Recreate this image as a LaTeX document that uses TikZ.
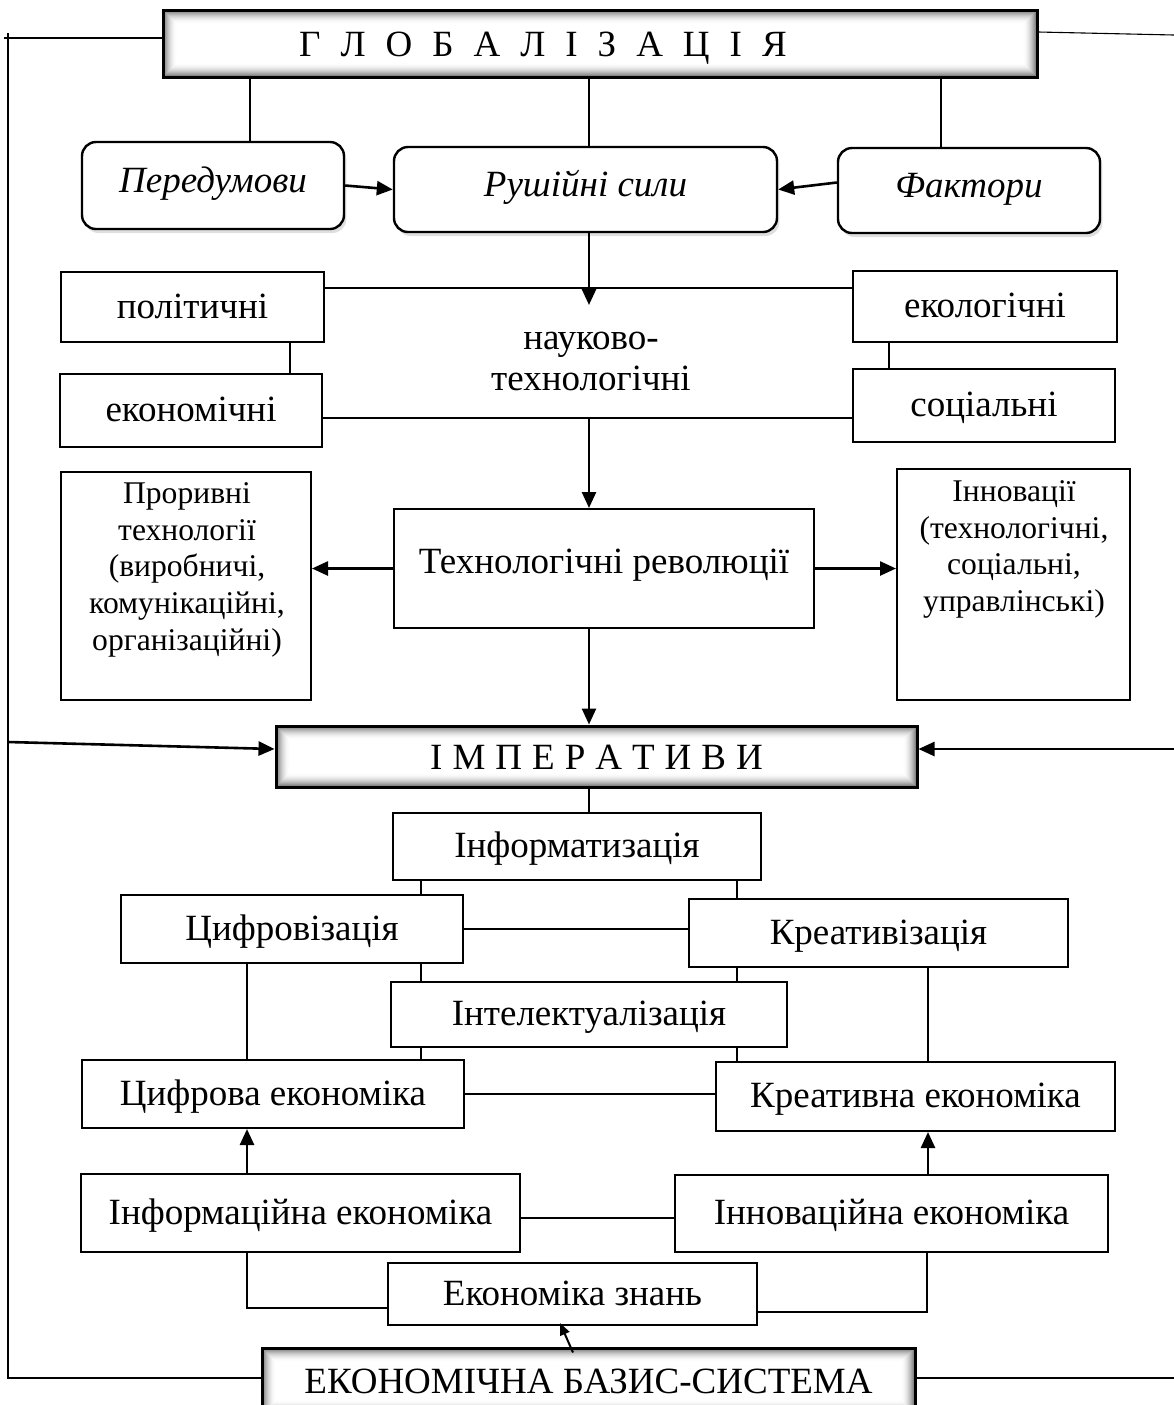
\documentclass[tikz,border=0pt]{standalone}
\usepackage{fontspec}
\setmainfont{Liberation Serif}
\usetikzlibrary{arrows.meta,shadows,calc}
\newcommand\fmain{\fontsize{18.5}{21.5}\selectfont}
\newcommand\fsmall{\fontsize{15.8}{18.4}\selectfont}
\newcommand\mkbox[7]{\node[#1, minimum width={(#5-#3)*0.5pt}, minimum height={(#6-#4)*0.5pt}] (#2) at ({(#3+#5)/2},{(#4+#6)/2}) {#7};}
\newcommand\innershade[1]{%
  \foreach \i in {0,...,13}{%
    \pgfmathsetmacro\op{0.55*(1-\i/14)^2}%
    \pgfmathsetmacro\dd{1.0+0.5*\i}%
    \draw[black, opacity=\op, line width=0.55pt] ($(#1.south west)+(\dd pt,\dd pt)$) rectangle ($(#1.north east)+(-\dd pt,-\dd pt)$);
  }}
\tikzset{
  plain/.style={draw, line width=1pt, fill=white, inner sep=0pt, font=\fmain,
    text height=13.5pt, text depth=2.5pt,
    drop shadow={shadow xshift=0.7pt, shadow yshift=-0.7pt, opacity=0.6}},
  rbox/.style={draw, line width=1.2pt, fill=white, rounded corners=7pt, inner sep=0pt, font=\fmain\itshape,
    text height=10pt, text depth=3.5pt,
    drop shadow={shadow xshift=1.2pt, shadow yshift=-2pt, opacity=0.25}},
  hbox/.style={draw, line width=1.5pt, fill=white, inner sep=0pt, font=\fmain,
    text height=14pt, text depth=1.5pt},
  arr/.style={line width=1.3pt, -{Triangle[length=8pt,width=7pt]}},
  thin/.style={line width=0.55pt},
  mid/.style={line width=1pt},
  txt/.style={inner sep=0pt, align=center},
}
\begin{document}
\begin{tikzpicture}[x=0.5pt,y=-0.5pt]
\useasboundingbox (0,0) rectangle (1174,1405);
% top
\mkbox{hbox}{glob}{163}{10}{1037}{77}{\spaceskip=10pt\relax Г Л О Б А Л І З А Ц І Я\rule{57pt}{0pt}}
\innershade{glob}
\mkbox{rbox}{pred}{82}{142}{344}{229}{Передумови}
\mkbox{rbox}{rush}{394}{147}{777}{232}{Рушійні сили}
\mkbox{rbox}{fakt}{838}{148}{1100}{233}{Фактори}
\mkbox{plain}{pol}{61}{272}{324}{342}{політичні}
\mkbox{plain}{eco}{60}{374}{322}{447}{економічні}
\mkbox{plain}{ekol}{853}{271}{1117}{342}{екологічні}
\mkbox{plain}{soc}{853}{369}{1115}{442}{соціальні}
\node[txt, font=\fontsize{18.5}{20.5}\selectfont] (nt) at (591,361) {науково-\\технологічні};
\mkbox{plain}{trev}{394}{509}{814}{628}{\raisebox{3pt}{Технологічні революції}}
\mkbox{plain}{prt}{61}{472}{311}{700}{}
\node[txt, font=\fsmall, anchor=north] (prtT) at (187,482) {Проривні\\технології\\(виробничі,\\комунікаційні,\\організаційні)};
\mkbox{plain}{innov}{897}{469}{1130}{700}{}
\node[txt, font=\fsmall, anchor=north] (innovT) at (1014,480) {Інновації\\(технологічні,\\соціальні,\\управлінські)};
\mkbox{hbox}{imp}{276}{726}{917}{787}{\spaceskip=5pt\relax І М П Е Р А Т И В И}
\innershade{imp}
% lower
\mkbox{plain}{info}{393}{813}{761}{880}{Інформатизація}
\mkbox{plain}{cif}{121}{895}{463}{963}{Цифровізація}
\mkbox{plain}{krz}{689}{899}{1068}{967}{Креативізація}
\mkbox{plain}{int}{391}{982}{787}{1047}{Інтелектуалізація}
\mkbox{plain}{cife}{82}{1060}{464}{1128}{Цифрова економіка}
\mkbox{plain}{kree}{716}{1062}{1115}{1131}{Креативна економіка}
\mkbox{plain}{infe}{81}{1174}{520}{1252}{Інформаційна економіка}
\mkbox{plain}{inne}{675}{1175}{1108}{1252}{Інноваційна економіка}
\mkbox{plain}{ezn}{388}{1263}{757}{1325}{Економіка знань}
\mkbox{hbox}{base}{262}{1348}{915}{1414}{ЕКОНОМІЧНА БАЗИС-СИСТЕМА}
\innershade{base}
% connectors top
\draw[thin] (250,0 |- glob.south) -- (250,0 |- pred.north);
\draw[thin] (589,0 |- glob.south) -- (589,0 |- rush.north);
\draw[thin] (941,0 |- glob.south) -- (941,0 |- fakt.north);
\draw[arr] (pred.east) -- (rush.west);
\draw[arr] ($(fakt.west)+(0,-8)$) -- (rush.east);
\coordinate (j1) at (589,305);
\draw[arr] (589,0 |- rush.south) -- (j1);
\draw[mid] (pol.east |- 0,288) -- (ekol.west |- 0,288);
\draw[mid] (eco.east |- 0,418) -- (soc.west |- 0,418);
\draw[mid] (290,0 |- pol.south) -- (290,0 |- eco.north);
\draw[mid] (889,0 |- ekol.south) -- (889,0 |- soc.north);
\coordinate (j2) at (589,418);
\draw[arr] (j2) -- (589,0 |- trev.north);
\draw[arr] (trev.west) -- (trev.west -| prt.east);
\draw[arr] (trev.east) -- (trev.east -| innov.west);
\draw[arr] (589,0 |- trev.south) -- (589,0 |- imp.north);
% feedback loops
\coordinate (L0) at (4,38);
\coordinate (L1) at (8,33);
\coordinate (L2) at (8,742);
\coordinate (L3) at (8,1378);
\draw[thin] (L0) -- (glob.west |- L0);
\draw[thin] (L1) -- (L3) -- (base.west |- L3);
\draw[arr] (L2) -- (imp.west |- 0,749);
\coordinate (R0) at (1174,35);
\coordinate (R1) at (1174,749);
\coordinate (R2) at (1174,1378);
\draw[thin] (glob.east |- 0,32) -- (R0);
\draw[arr] (R1) -- (imp.east |- R1);
\draw[thin] (base.east |- R2) -- (R2);
% connectors lower
\draw[thin] (589,0 |- imp.south) -- (589,0 |- info.north);
\draw[thin] (421,0 |- info.south) -- (421,0 |- cif.north);
\draw[thin] (737,0 |- info.south) -- (737,0 |- krz.north);
\draw[thin] (cif.east) -- (cif.east -| krz.west);
\draw[thin] (421,0 |- cif.south) -- (421,0 |- int.north);
\draw[thin] (737,0 |- krz.south) -- (737,0 |- int.north);
\draw[thin] (247,0 |- cif.south) -- (247,0 |- cife.north);
\draw[thin] (928,0 |- krz.south) -- (928,0 |- kree.north);
\draw[thin] (421,0 |- int.south) -- (421,0 |- cife.north);
\draw[thin] (737,0 |- int.south) -- (737,0 |- kree.north);
\draw[thin] (cife.east) -- (cife.east -| kree.west);
\draw[arr] (247,0 |- infe.north) -- (247,0 |- cife.south);
\draw[arr] (928,0 |- inne.north) -- (928,0 |- kree.south);
\draw[thin] (infe.east |- 0,1218) -- (inne.west |- 0,1218);
\draw[thin] (247,0 |- infe.south) |- (ezn.west |- 0,1308);
\draw[thin] (927,0 |- inne.south) |- (ezn.east |- 0,1312);
\draw[line width=1pt, -{Triangle[length=6pt,width=5pt]}] ($(573,0 |- base.north)+(0,6)$) -- ($(560,0 |- ezn.south)+(0,-3)$);
\end{tikzpicture}
\end{document}
